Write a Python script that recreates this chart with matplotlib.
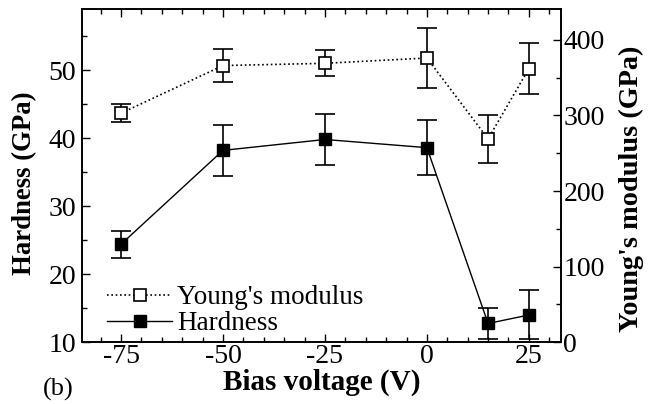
import matplotlib
matplotlib.use("Agg")
import matplotlib.pyplot as plt
from matplotlib.ticker import MultipleLocator
from matplotlib.lines import Line2D

plt.rcParams['font.family'] = ['Liberation Serif', 'DejaVu Serif']
plt.rcParams['axes.unicode_minus'] = False

bias = [-75, -50, -25, 0, 15, 25]
hardness = [24.4, 38.2, 39.8, 38.6, 12.75, 14.0]
hardness_err = [2.0, 3.7, 3.8, 4.0, 2.3, 3.6]
modulus = [303, 366, 369, 376, 269, 362]
modulus_err = [12, 22, 17, 40, 32, 34]

fig = plt.figure(figsize=(6.55, 4.04), dpi=100)
ax = fig.add_axes([0.125, 0.153, 0.731, 0.825])
ax2 = ax.twinx()

ax.errorbar(bias, hardness, yerr=hardness_err, color='black', lw=1.0,
            marker='s', ms=9, mfc='black', mec='black', capsize=7,
            elinewidth=1.2, capthick=1.2, zorder=3)
ax2.errorbar(bias, modulus, yerr=modulus_err, color='black', lw=1.2,
             ls=(0, (1, 1.6)), marker='s', ms=8, mfc='white', mec='black',
             mew=1.2, capsize=7, elinewidth=1.2, capthick=1.2, zorder=3)

ax.set_xlim(-84.6, 32.8)
ax.set_ylim(10, 59)
ax2.set_ylim(0, 441)

fs = 20
ax.xaxis.set_major_locator(MultipleLocator(25))
ax.xaxis.set_minor_locator(MultipleLocator(5))
ax.yaxis.set_major_locator(MultipleLocator(10))
ax.yaxis.set_minor_locator(MultipleLocator(5))
ax2.yaxis.set_major_locator(MultipleLocator(100))
ax2.yaxis.set_minor_locator(MultipleLocator(50))

ax.tick_params(axis='both', which='both', direction='in', labelsize=fs)
ax.tick_params(axis='x', which='both', top=True, pad=1)
ax.tick_params(axis='y', which='both', right=False, pad=4)
ax.tick_params(which='major', length=6, width=1)
ax.tick_params(which='minor', length=3.5, width=1)
ax2.tick_params(axis='y', which='both', direction='in', labelsize=fs, pad=2)
ax2.tick_params(which='major', length=6, width=1)
ax2.tick_params(which='minor', length=3.5, width=1)

for a in (ax, ax2):
    for s in a.spines.values():
        s.set_linewidth(1.2)

ax.set_xlabel('Bias voltage (V)', fontsize=21, fontweight='bold', labelpad=0)
ax.set_ylabel('Hardness (GPa)', fontsize=19.3, fontweight='bold')
ax2.set_ylabel("Young's modulus (GPa)", fontsize=20.3, fontweight='bold')
ax.yaxis.set_label_coords(-0.094, 0.477)
ax2.yaxis.set_label_coords(1.121, 0.46)

h1 = Line2D([], [], color='black', lw=1.2, ls=(0, (1, 1.6)), marker='s', ms=8,
            mfc='white', mec='black', mew=1.2)
h2 = Line2D([], [], color='black', lw=1.0, marker='s', ms=9, mfc='black', mec='black')
ax.legend([h1, h2], ["Young's modulus", 'Hardness'], loc='lower left',
          bbox_to_anchor=(0.03, -0.015), frameon=False, fontsize=19.5,
          handlelength=2.4, handletextpad=0.2, labelspacing=0.05,
          borderaxespad=0.0)

fig.text(0.066, 0.02, '(b)', fontsize=19)

fig.savefig('out.png', dpi=100)
